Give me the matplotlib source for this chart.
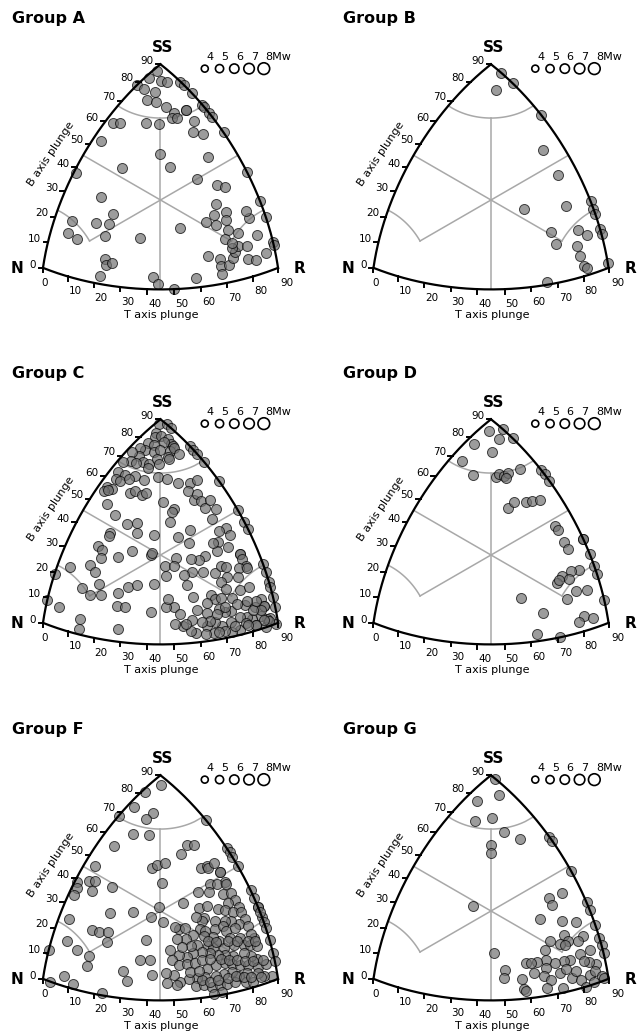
import numpy as np
import matplotlib
matplotlib.use("Agg")
import matplotlib.pyplot as plt

# T- and B-axis plunges (degrees) of each event, per group; the P plunge follows from them
A_T = [1,5,1,7,10,0,3,7,7,10,14,12,16,20,18,19,20,20,22,23,25,26,28,28,31,35,3,5,13,17,3,25,31,16,1,39,52,42,49,52,14,7,16,21,21,7,11,21,34,23,24,26,22,42,44,50,58,47,54,59,55,56,61,59,64,65,68,61,66,67,68,70,71,71,71,69,74,68,77,80,74,67,64,64,70,80,82,81]
A_B = [87,83,83,82,80,78,78,74,78,74,72,78,74,69,69,67,67,69,68,67,64,64,62,60,58,55,61,62,65,65,53,53,48,46,38,49,38,42,38,36,33,21,23,24,28,16,15,19,20,10,8,9,3,5,2,0,4,24,31,27,25,27,24,23,20,17,18,12,10,7,4,7,9,11,13,13,12,15,7,6,15,22,25,26,20,10,7,9]
B_T = [5,9,11,27,38,49,48,60,64,67,69,62,66,70,74,75,77,74,77,80,81,88,66]
B_B = [85,79,79,63,51,40,31,28,26,23,21,20,15,18,15,15,13,12,8,4,3,2,1]
C_T = [1,3,5,3,4,5,8,10,4,6,8,11,5,3,8,9,12,12,15,15,17,5,2,8,10,11,13,14,4,6,2,11,13,3,6,9,4,6,8,3,5,3,4,13,16,19,26,12,13,16,17,7,29,12,18,21,23,14,14,32,12,14,15,21,25,41,5,12,15,39,24,29,31,23,28,27,31,34,37,36,40,42,32,45,48,50,53,47,51,50,52,54,49,50,49,39,46,37,42,29,32,32,42,49,47,50,41,38,53,57,57,59,59,59,61,64,63,65,67,70,65,62,61,64,60,62,60,64,68,69,71,74,76,78,78,81,80,84,86,85,82,79,77,74,74,70,68,71,68,65,62,65,58,56,53,56,50,48,45,45,51,54,61,57,65,40,89,85,81,75,72,71,0,0,5,12,16,20,18,26,29,32,27,30,14,14,29,19,23,
       81,81,78,77,74,67,65,63,60,54,77,73,69,86,84,81,78,67,62]
C_B = [88,87,85,84,82,83,81,79,79,79,80,78,76,76,76,77,76,77,74,75,73,73,73,71,71,73,74,73,70,70,68,69,71,64,64,65,61,61,63,57,57,55,56,64,66,65,62,58,59,58,59,51,53,48,46,47,43,41,40,55,35,34,31,33,36,34,24,27,25,31,56,52,48,63,59,62,57,54,51,53,49,46,58,45,41,40,37,41,38,37,34,34,37,33,32,44,33,42,39,43,35,36,31,28,27,23,27,24,27,26,28,27,30,30,28,25,25,24,23,20,22,23,22,19,18,16,15,16,15,17,17,16,14,11,9,8,10,6,3,3,5,5,6,7,11,10,10,6,5,7,6,3,4,5,7,9,8,15,15,18,12,18,11,13,12,13,0,0,2,2,2,12,19,9,8,18,16,17,21,19,22,23,14,14,6,2,5,71,67,
       8,7,8,11,12,12,10,8,8,8,4,4,3,2,3,2,3,3,3]
D_T = [3,6,8,11,3,10,4,11,18,18,20,20,21,22,27,29,32,30,30,33,34,36,47,49,54,57,57,57,63,66,64,63,63,63,66,68,71,71,74,70,81,53,63,79,78,83,62,71]
D_B = [85,84,81,79,78,76,70,66,66,67,66,67,65,67,63,61,58,53,55,54,54,53,42,40,35,32,33,33,27,23,24,23,21,22,21,22,19,16,15,14,9,18,11,6,4,4,3,0]
F_T = [3,1,2,0,9,9,9,14,6,23,24,26,30,4,1,2,2,5,7,8,14,34,18,26,33,38,4,14,17,20,6,11,16,16,0,3,8,12,23,30,32,35,21,24,27,29,28,37,38,39,37,39,39,41,43,45,47,43,44,46,48,46,50,52,55,55,54,58,58,43,41,35,47,49,53,55,58,60,62,62,66,64,63,63,60,58,55,51,51,48,52,54,57,59,61,63,66,68,70,71,69,67,64,61,58,55,51,49,45,43,47,46,54,58,60,64,67,70,72,74,75,80,78,75,72,69,66,63,60,57,54,52,49,47,50,53,56,61,64,67,70,73,76,80,82,83,87,84,81,77,74,71,68,65,61,58,55,52,49,46,47,51,58,61,64,67,70,73,77,80,68,65,41,39,
       60,63,66,70,73,76,79,83,58,61,65,68,71,74,77,80,55,58,57,60,64,67,70,72,52,49,45]
F_B = [86,81,74,68,74,71,64,65,57,52,53,54,46,47,39,37,34,41,42,38,42,37,32,34,33,31,25,24,24,25,17,15,14,10,11,0,4,2,1,11,7,16,21,66,60,59,57,50,50,49,53,51,50,49,46,45,42,46,43,42,41,40,38,37,34,35,34,31,32,41,38,24,35,35,33,32,30,29,28,28,24,26,26,25,27,28,29,31,30,32,27,26,26,26,24,24,23,22,20,18,20,20,21,21,23,24,25,24,28,29,28,24,21,20,19,18,18,17,16,15,15,10,10,12,14,14,15,16,17,18,18,17,18,16,14,14,14,11,12,12,11,10,9,7,7,7,2,3,5,6,6,8,8,8,8,8,8,7,10,11,7,6,5,5,4,4,4,4,3,2,1,1,10,16,
       7,6,6,6,6,5,4,3,15,15,14,13,12,11,10,9,11,11,22,21,20,19,18,17,21,21,20]
G_T = [2,8,4,9,13,20,26,32,34,20,22,47,52,50,53,28,53,60,64,60,63,69,64,67,70,74,61,61,65,67,70,74,76,77,80,82,79,77,72,70,67,63,60,64,60,64,67,70,72,75,76,79,82,83,87,81,84,72,66,56,58,43,49,49,56,57,58,88]
G_B = [88,81,78,70,72,66,62,58,56,61,58,43,37,37,34,37,30,27,25,30,27,21,22,19,19,16,21,18,19,18,18,13,13,13,10,7,9,10,12,12,12,14,14,11,10,8,6,8,9,5,7,3,4,5,2,0,1,2,3,14,14,19,12,9,8,4,3,1]

groups = {"A": (A_T, A_B), "B": (B_T, B_B), "C": (C_T, C_B),
          "D": (D_T, D_B), "F": (F_T, F_B), "G": (G_T, G_B)}

mw_legend = [4, 5, 6, 7, 8]
t_ticks = np.arange(0, 91, 10)
b_ticks = np.arange(0, 91, 10)
lim = 67.5  # plunge limit of the pure-mechanism fields


def sind(a):
    return np.sin(np.radians(a))


def third_plunge(a, b):
    # plunge of the remaining axis of an orthogonal P-B-T triad
    return np.degrees(np.arcsin(np.sqrt(np.clip(1 - sind(a) ** 2 - sind(b) ** 2, 0, 1))))


def kave(t, b, p):
    # Kaverina diagram coordinates from T, B and P plunges
    zt, zb, zp = sind(t), sind(b), sind(p)
    L = 2 * np.sin(0.5 * np.arccos(np.clip((zt + zb + zp) / np.sqrt(3), -1, 1)))
    N = np.sqrt(2 * ((zb - zp) ** 2 + (zb - zt) ** 2 + (zt - zp) ** 2))
    return np.sqrt(3) * (L / N) * (zt - zp), (L / N) * (2 * zb - zp - zt)


def msize(mw):
    return (0.72 * (7 + 1.18 * (np.asarray(mw, float) - 4))) ** 2


def base(ax, title):
    ax.set_xlim(-1, 1)
    ax.set_ylim(-0.9, 1.2)
    ax.axis("off")

    # triangle sides
    tt = np.linspace(0, 90, 181)
    ax.plot(*kave(tt, 0 * tt, 90 - tt), "k", lw=1.6, zorder=3)
    ax.plot(*kave(0 * tt, tt, 90 - tt), "k", lw=1.6, zorder=3)
    ax.plot(*kave(tt, 90 - tt, 0 * tt), "k", lw=1.6, zorder=3)

    # field boundaries
    gray = dict(color="#a8a8a8", lw=1.1, zorder=1)
    corner = np.degrees(np.arcsin(np.cos(np.radians(lim)) / np.sqrt(2)))
    a = np.linspace(0, 90 - lim, 60)
    ax.plot(*kave(a, lim + 0 * a, third_plunge(a, lim)), **gray)
    a = np.linspace(0, corner, 40)
    ax.plot(*kave(a, third_plunge(a, lim), lim + 0 * a), **gray)
    ax.plot(*kave(lim + 0 * a, third_plunge(a, lim), a), **gray)
    for t0, b0, p0, t1, b1, p1 in [(corner, lim, corner, 45, 0, 45),
                                   (0, 45, 45, lim, corner, corner),
                                   (45, 45, 0, corner, corner, lim)]:
        x0, y0 = kave(t0, b0, p0)
        x1, y1 = kave(t1, b1, p1)
        ax.plot([x0, x1], [y0, y1], **gray)

    # ticks and labels
    for t in t_ticks:
        x, y = kave(t, 0, 90 - t)
        ax.plot([x, x], [y, y - 0.03], "k", lw=1.4, zorder=3)
        dx = 0.012 if t == 0 else (0.061 if t == 90 else 0.051)
        ax.text(x + dx, y - 0.102, str(t), ha="center", va="center", fontsize=7.5)
    for b in b_ticks:
        x, y = kave(0, b, 90 - b)
        ax.plot([x - 0.03, x], [y, y], "k", lw=1.4, zorder=3)
        ax.text(x - 0.047, y + 0.022, str(b), ha="right", va="center", fontsize=7.5)
    ax.text(0.008, -0.78, "T axis plunge", ha="center", va="center", fontsize=8)
    ax.text(-0.743, 0.312, "B axis plunge", ha="center", va="center", fontsize=8, rotation=56)
    ax.text(0.017, 1.03, "SS", ha="center", va="center", fontsize=11, weight="bold")
    ax.text(-0.97, -0.467, "N", ha="center", va="center", fontsize=11, weight="bold")
    ax.text(0.945, -0.467, "R", ha="center", va="center", fontsize=11, weight="bold")

    # magnitude legend
    lx = 0.30 + 0.1 * (np.array(mw_legend) - 4)
    ax.scatter(lx, 0.89 + 0 * lx, s=msize(mw_legend), facecolors="none", edgecolors="k", lw=1.2, zorder=4)
    for x, m in zip(lx, mw_legend):
        ax.text(x + 0.012, 0.967, str(m) + ("Mw" if m == 8 else ""), ha="left", va="center", fontsize=8)
    ax.text(-1.006, 1.231, title, ha="left", va="center", fontsize=11.5, weight="bold")


fig = plt.figure(figsize=(6.37, 10.33), dpi=100)
W, H, S = 637, 1033, 147.6  # figure size and diagram scale in pixels
spots = {"A": (160.5, 200), "B": (491, 200), "C": (160.5, 555),
         "D": (491, 555), "F": (160.5, 911), "G": (491, 911)}
for name, (cxp, cyp) in spots.items():
    ax = fig.add_axes([(cxp - S) / W, 1 - (cyp + 0.9 * S) / H, 2 * S / W, 2.1 * S / H])
    base(ax, "Group " + name)
    ts = np.array(groups[name][0], float)
    bs = np.array(groups[name][1], float)
    x, y = kave(ts, bs, third_plunge(ts, bs))
    ax.scatter(x, y, s=52, c="#737373", edgecolors="k", alpha=0.7, lw=0.7, zorder=2)

fig.savefig("out.png", dpi=100)
